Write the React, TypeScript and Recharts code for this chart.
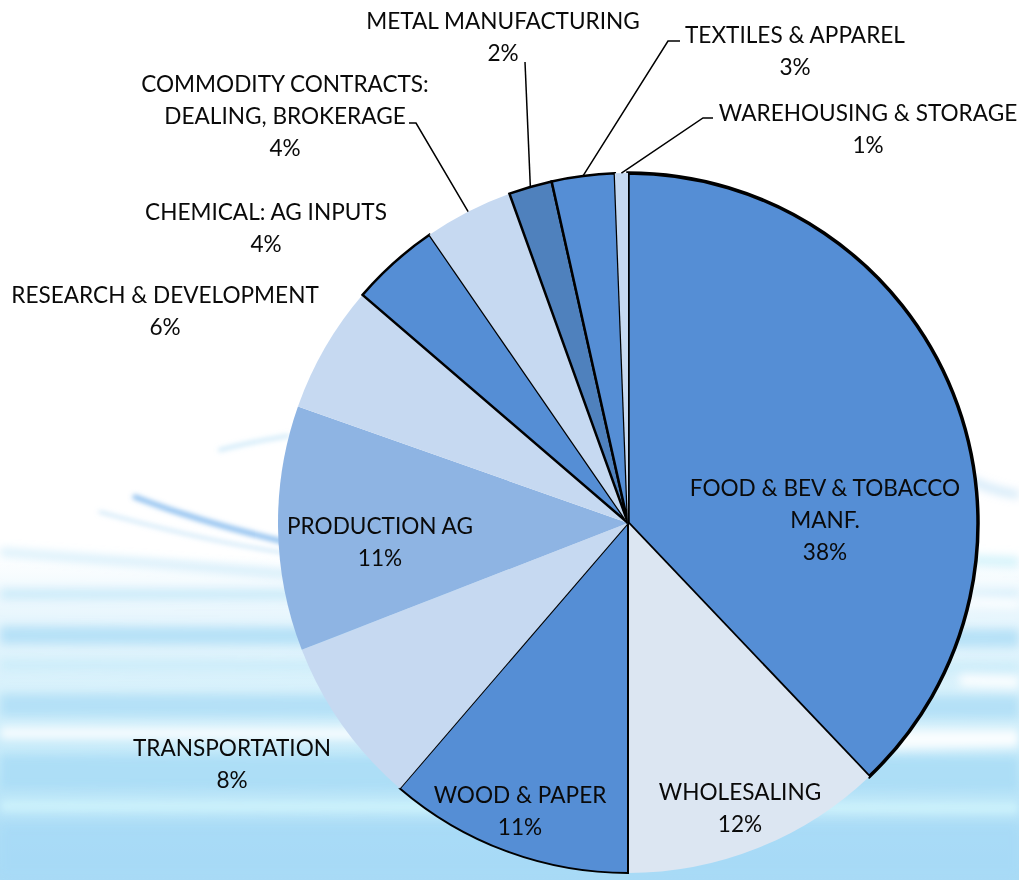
import React from "react";
import { PieChart, Pie, Cell } from "recharts";

const CATEGORIES = [
  "FOOD & BEV & TOBACCO\nMANF.",
  "WHOLESALING",
  "WOOD & PAPER",
  "TRANSPORTATION",
  "PRODUCTION AG",
  "RESEARCH & DEVELOPMENT",
  "CHEMICAL: AG INPUTS",
  "COMMODITY CONTRACTS:\nDEALING, BROKERAGE",
  "METAL MANUFACTURING",
  "TEXTILES & APPAREL",
  "WAREHOUSING & STORAGE",
];
const SHARES = [37.9, 12.1, 11.3, 7.8, 11.3, 5.9, 4.1, 4.1, 2.0, 2.9, 0.6];

const FILLS = [
  "#558ED5", "#DCE6F2", "#558ED5", "#C6D9F1", "#8EB4E3", "#C6D9F1",
  "#558ED5", "#C6D9F1", "#4F81BD", "#558ED5", "#C6D9F1",
];
const STROKE_W = [3.5, 0, 2, 0, 0, 0, 2.5, 0, 2.5, 2.5, 0];

// label block centre offsets relative to pie centre
const LABEL_POS: [number, number][] = [
  [197, -4], [112, 284], [-108, 287], [-396, 240], [-248, 18], [-463, -213],
  [-362, -296], [-343, -408], [-125, -487], [167, -473], [240, -395],
];
// leader line: [elbow x, elbow y, horizontal tail length] relative to centre (null = none)
const LEADERS: ([number, number, number] | null)[] = [
  null, null, null, null, null, null, null,
  [-212, -400, -7], [-103, -461, 0], [40, -482, 12], [75, -405, 10],
];

const data = CATEGORIES.map((name, i) => ({ name, value: SHARES[i] }));

const FONT = "Lato, 'Open Sans', sans-serif";
const FS = 22.6;
const LH = 32;
const RAD = Math.PI / 180;

const renderLabel = (props: any) => {
  const { cx, cy, midAngle, outerRadius, percent, index, name } = props;
  const [dx, dy] = LABEL_POS[index];
  const lines: string[] = String(name).split("\n");
  lines.push(`${Math.round(percent * 100)}%`);
  const x = cx + dx;
  const top = cy + dy - ((lines.length - 1) * LH) / 2;
  const ld = LEADERS[index];
  let leader = null;
  if (ld) {
    const ex = cx + outerRadius * Math.cos(-midAngle * RAD);
    const ey = cy + outerRadius * Math.sin(-midAngle * RAD);
    const bx = cx + ld[0];
    const by = cy + ld[1];
    const pts = ld[2] !== 0 ? `${bx + ld[2]},${by} ${bx},${by} ${ex},${ey}` : `${bx},${by} ${ex},${ey}`;
    leader = <polyline points={pts} fill="none" stroke="#000" strokeWidth={1.5} />;
  }
  return (
    <g key={`lbl-${index}`}>
      {leader}
      {lines.map((t, k) => (
        <text
          key={k}
          x={x}
          y={top + k * LH}
          textAnchor="middle"
          dominantBaseline="central"
          fontFamily={FONT}
          fontSize={FS}
          fill="#0a0a0a"
        >
          {t}
        </text>
      ))}
    </g>
  );
};

const Background = () => (
  <svg width={1019} height={880} style={{ position: "absolute", left: 0, top: 0 }}>
    <defs>
      <linearGradient id="bg" x1="0" y1="0" x2="0" y2="1">
        <stop offset="0" stopColor="#ffffff" />
        <stop offset="0.63" stopColor="#ffffff" />
        <stop offset="0.7" stopColor="#e8f6fd" />
        <stop offset="0.8" stopColor="#d4f0fb" />
        <stop offset="0.88" stopColor="#c0e8f9" />
        <stop offset="0.94" stopColor="#b0dff7" />
        <stop offset="1" stopColor="#a9dbf6" />
      </linearGradient>
      <filter id="blur" filterUnits="userSpaceOnUse" x="-50" y="0" width="1120" height="900">
        <feGaussianBlur stdDeviation="5" />
      </filter>
      <filter id="blur2" filterUnits="userSpaceOnUse" x="-50" y="0" width="1120" height="900">
        <feGaussianBlur stdDeviation="2.5" />
      </filter>
    </defs>
    <rect width={1019} height={880} fill="url(#bg)" />
    <g filter="url(#blur2)" fill="none" strokeLinecap="round">
      <path d="M135 497 Q 200 522 285 542" stroke="#5fa6e8" strokeWidth={5} opacity={0.75} />
      <path d="M100 512 Q 200 540 285 553" stroke="#9ccff2" strokeWidth={3} opacity={0.5} />
      <path d="M220 450 Q 250 442 288 436" stroke="#a2d6f4" strokeWidth={4} opacity={0.5} />
    </g>
    <g filter="url(#blur)" fill="none" strokeLinecap="butt">
      <path d="M0 552 Q 150 562 300 575" stroke="#a8dcf5" strokeWidth={6} opacity={0.6} />
      <path d="M0 594 L 1019 596" stroke="#b9e4f8" strokeWidth={10} opacity={0.7} />
      <path d="M0 635 L 1019 638" stroke="#a4d9f5" strokeWidth={18} opacity={0.7} />
      <path d="M0 665 L 1019 668" stroke="#c7ebfa" strokeWidth={12} opacity={0.7} />
      <path d="M0 705 L 1019 707" stroke="#a6daf5" strokeWidth={22} opacity={0.7} />
      <path d="M0 733 L 1019 735" stroke="#ffffff" strokeWidth={12} opacity={0.85} />
      <path d="M0 772 L 1019 774" stroke="#a9dcf6" strokeWidth={34} opacity={0.85} />
      <path d="M0 806 L 1019 808" stroke="#d3f6fc" strokeWidth={12} opacity={0.8} />
      <path d="M0 850 L 1019 850" stroke="#a6daf6" strokeWidth={50} opacity={0.8} />
      <path d="M950 470 Q 985 490 1019 495" stroke="#8fc8ef" strokeWidth={5} opacity={0.6} />
      <path d="M970 560 L 1019 562" stroke="#c2eefa" strokeWidth={10} opacity={0.7} />
      <path d="M960 600 L 1019 602" stroke="#ffffff" strokeWidth={10} opacity={0.9} />
      <path d="M960 680 L 1019 682" stroke="#ffffff" strokeWidth={12} opacity={0.9} />
      <path d="M860 745 L 1019 742" stroke="#ffffff" strokeWidth={10} opacity={0.9} />
    </g>
  </svg>
);

export default function App() {
  return (
    <div style={{ position: "absolute", left: 0, top: 0, width: 1019, height: 880, overflow: "hidden" }}>
      <Background />
      <div style={{ position: "absolute", left: 0, top: 0 }}>
        <PieChart width={1019} height={880} margin={{ top: 0, right: 0, bottom: 0, left: 0 }}>
          <Pie
            data={data}
            dataKey="value"
            nameKey="name"
            cx={628}
            cy={523}
            outerRadius={350}
            startAngle={90}
            endAngle={-270}
            isAnimationActive={false}
            labelLine={false}
            label={renderLabel}
          >
            {data.map((_, i) => (
              <Cell
                key={i}
                fill={FILLS[i]}
                stroke={STROKE_W[i] > 0 ? "#000" : "none"}
                strokeWidth={STROKE_W[i]}
              />
            ))}
          </Pie>
        </PieChart>
      </div>
    </div>
  );
}
